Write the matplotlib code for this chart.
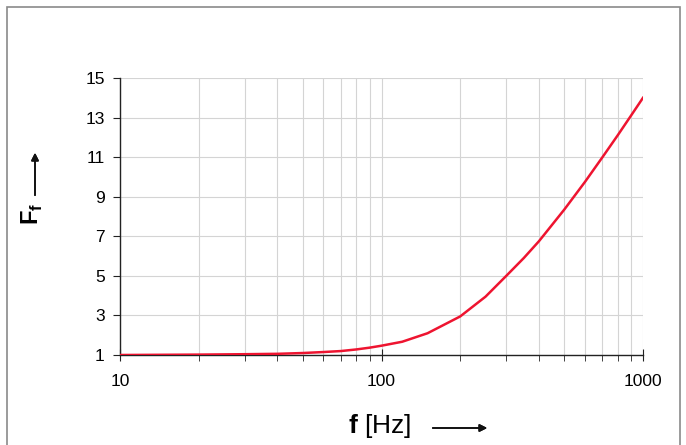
"""Frequency factor F_f against frequency, log x axis."""
import matplotlib.pyplot as plt
from matplotlib.patches import Rectangle

# values
freq_hz = [10, 20, 30, 40, 50, 60, 70, 80, 90, 100, 120, 150, 200, 250, 300,
           350, 400, 500, 600, 700, 800, 900, 1000]
f_factor = [1.0, 1.02, 1.04, 1.06, 1.1, 1.15, 1.2, 1.28, 1.37, 1.47, 1.67, 2.1,
            2.95, 3.95, 5.0, 5.9, 6.75, 8.35, 9.75, 11.0, 12.1, 13.1, 14.0]
y_ticks = [1, 3, 5, 7, 9, 11, 13, 15]
x_ticks = [10, 100, 1000]
x_labels = ["10", "100", "1000"]

plt.rcParams['font.family'] = ['Liberation Sans', 'DejaVu Sans']
plt.rcParams['mathtext.fontset'] = 'custom'
plt.rcParams['mathtext.rm'] = 'Liberation Sans'
plt.rcParams['mathtext.bf'] = 'Liberation Sans:bold'

W, H = 686, 445
fig = plt.figure(figsize=(W / 100, H / 100), dpi=100)
ax = fig.add_axes([120 / W, (H - 355) / H, (643 - 120) / W, (355 - 78) / H])

ax.plot(freq_hz, f_factor, color='#ee1430', lw=1.8, zorder=3,
        solid_joinstyle='round')
ax.set_xscale('log')
ax.set_xlim(10, 1000)
ax.set_ylim(1, 15)
ax.set_yticks(y_ticks)
ax.set_xticks(x_ticks)
ax.set_xticklabels(x_labels)

ax.grid(True, which='major', color='#d4d4d4', lw=0.8)
ax.grid(True, which='minor', axis='x', color='#d4d4d4', lw=0.8)
ax.set_axisbelow(True)
for s in ['top', 'right']:
    ax.spines[s].set_visible(False)
for s in ['left', 'bottom']:
    ax.spines[s].set_color('#222222')
    ax.spines[s].set_linewidth(1.0)
ax.tick_params(axis='both', which='major', labelsize=12.5, length=5,
               direction='out', color='#222222', pad=6)
ax.tick_params(axis='x', which='major', direction='inout', length=8, pad=10)
ax.tick_params(axis='x', which='minor', direction='out', length=4,
               color='#222222', labelbottom=False)

# axis labels with arrows, drawn in figure pixels
def px(x, y):
    return (x / W, 1 - y / H)

fig.text(*px(32, 214), r'$\mathbf{F}_\mathbf{f}$', rotation=90, fontsize=17,
         ha='center', va='center')
fig.add_artist(plt.annotate('', xy=px(35, 150), xytext=px(35, 198),
                            xycoords='figure fraction',
                            arrowprops=dict(arrowstyle='-|>', color='#111111',
                                            lw=1.2, mutation_scale=11)))
fig.text(*px(380, 426), r'$\mathbf{f}$ [Hz]', fontsize=19,
         ha='center', va='center')
fig.add_artist(plt.annotate('', xy=px(490, 428), xytext=px(430, 428),
                            xycoords='figure fraction',
                            arrowprops=dict(arrowstyle='-|>', color='#111111',
                                            lw=1.2, mutation_scale=11)))

# grey frame around the picture
fig.add_artist(Rectangle(px(7, 460), (680 - 7) / W, (460 - 7) / H,
                         transform=fig.transFigure, fill=False,
                         edgecolor='#8a8a8a', lw=1.2, clip_on=False))

fig.savefig('out.png', dpi=100)
